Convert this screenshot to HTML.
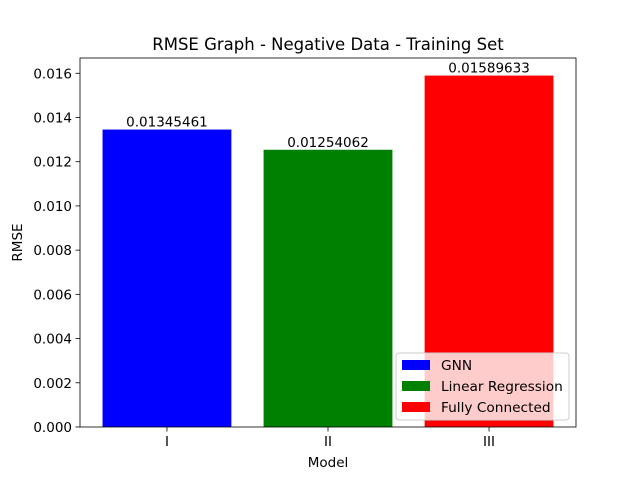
<!DOCTYPE html>
<html><head><meta charset="utf-8"><style>body{margin:0;background:#fff}svg{display:block}text{font-family:"DejaVu Sans","Liberation Sans",sans-serif}</style></head>
<body>
<svg id="chart" width="640" height="480">
<rect width="640" height="480" fill="#fff"/>
<g id="plot"></g>
</svg>
<script>
const categories = ["I","II","III"];
const seriesNames = ["GNN","Linear Regression","Fully Connected"];
const values = [0.01345461, 0.01254062, 0.01589633];
const valueLabels = ["0.01345461","0.01254062","0.01589633"];
const colors = ["#0000ff","#008000","#ff0000"];
const yTicks = [0,0.002,0.004,0.006,0.008,0.010,0.012,0.014,0.016];
const yTickLabels = ["0.000","0.002","0.004","0.006","0.008","0.010","0.012","0.014","0.016"];

const L=80,R=576,T=58,B=427;
const xmin=-0.54,xmax=2.54;
const ymax=Math.max(...values)*1.05;
const xs=v=>L+(v-xmin)/(xmax-xmin)*(R-L);
const ys=v=>B-v/ymax*(B-T);
const ns="http://www.w3.org/2000/svg";
const g=document.getElementById('plot');
function mk(tag,attrs,text){const e=document.createElementNS(ns,tag);for(const k in attrs)e.setAttribute(k,attrs[k]);if(text!==undefined)e.textContent=text;g.appendChild(e);return e;}

values.forEach((v,i)=>{
  const r=mk('rect',{x:xs(i-0.4),y:ys(v),width:xs(i+0.4)-xs(i-0.4),height:B-ys(v),fill:colors[i]});
  
  
  const t=mk('text',{x:xs(i),y:ys(v)-3,'text-anchor':'middle','font-size':'13.5'},valueLabels[i]);
  
  
  const tk=mk('line',{x1:xs(i),x2:xs(i),y1:B,y2:B+4.5,stroke:'#000','stroke-width':0.8});
  
  
  const tl=mk('text',{x:xs(i),y:B+19,'text-anchor':'middle','font-size':'13.5'},categories[i]);
  
  
});
yTicks.forEach((v,i)=>{
  const tk=mk('line',{x1:L-4.5,x2:L,y1:ys(v),y2:ys(v),stroke:'#000','stroke-width':0.8});
  
  
  const tl=mk('text',{x:L-8,y:ys(v)+5,'text-anchor':'end','font-size':'13.5'},yTickLabels[i]);
  
  
});
const fr=mk('rect',{x:L,y:T,width:R-L,height:B-T,fill:'none',stroke:'#000','stroke-width':0.8});


const ti=mk('text',{x:(L+R)/2,y:50,'text-anchor':'middle','font-size':'16.5'},'RMSE Graph - Negative Data - Training Set');


const xl=mk('text',{x:(L+R)/2,y:467,'text-anchor':'middle','font-size':'13.5'},'Model');


const yl=mk('text',{x:22,y:(T+B)/2,'text-anchor':'middle','font-size':'13.5',transform:'rotate(-90 22 '+((T+B)/2)+')'},'RMSE');


const lb=mk('rect',{x:396,y:353,width:173,height:67,rx:3,fill:'#fff','fill-opacity':0.8,stroke:'#ccc','stroke-width':1});


seriesNames.forEach((n,i)=>{
  const y=360+i*21;
  const s=mk('rect',{x:402,y:y,width:28,height:10,fill:colors[i]});
  
  
  const t=mk('text',{x:441,y:y+10,'font-size':'13.7'},n);
  
  
});
</script>
</body></html>
